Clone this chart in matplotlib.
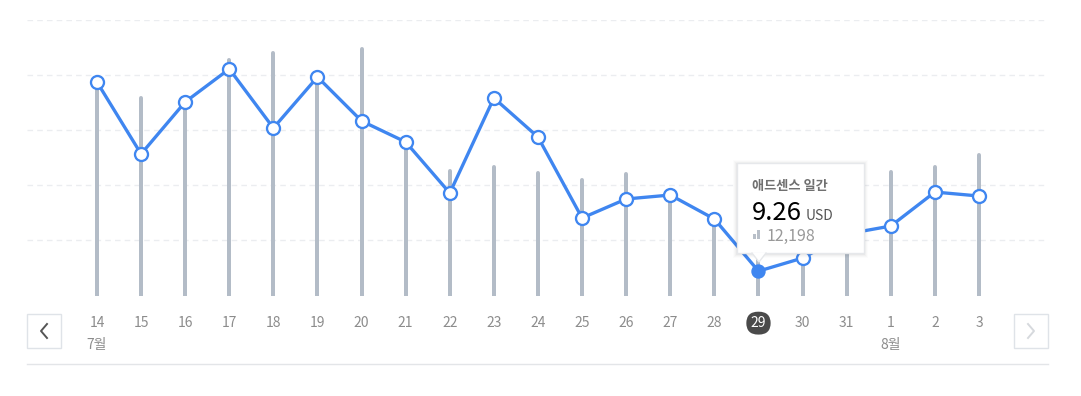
import matplotlib
matplotlib.use("Agg")
import matplotlib.pyplot as plt
from matplotlib.patches import Polygon, Rectangle
from matplotlib.transforms import blended_transform_factory

plt.rcParams["font.family"] = ["Noto Sans CJK KR", "DejaVu Sans"]

# ---------------------------------------------------------
# Data
# ---------------------------------------------------------
days = ["14", "15", "16", "17", "18", "19", "20", "21", "22", "23", "24",
        "25", "26", "27", "28", "29", "30", "31", "1", "2", "3"]
earnings_usd = [26.45, 19.91, 24.64, 27.64, 22.27, 26.91, 22.91, 21.00, 16.36, 25.00, 21.45,
                14.09, 15.82, 16.18, 14.00, 9.26, 10.45, 12.64, 13.36, 16.45, 16.09]
pageviews = [62900, 59400, 57600, 70800, 72900, 64800, 74100, 45300, 37500, 38700, 36900,
             34800, 36600, 29700, 22200, 12198, 10200, 14400, 37200, 38700, 42300]
month_marks = {0: "7월", 18: "8월"}
selected = 15
tooltip_title = "애드센스 일간"

BLUE = "#3f86f0"
BAR = "#b3bcc7"
W, H, DPI = 1081, 396, 100


def fx(x):
    return x / W


def fy(y):
    return 1 - y / H


fig = plt.figure(figsize=(W / DPI, H / DPI), dpi=DPI)
ax = fig.add_axes([fx(27), fy(296), fx(1048 - 27), (296 - 20) / H])
ax2 = ax.twinx()

x = list(range(len(days)))

# bars (pageviews)
ax.vlines(x, 0, pageviews, color=BAR, linewidth=4 * 72 / DPI, capstyle="round", zorder=2)
ax.set_ylim(0, 82800)
ax.set_xlim(-1.587, 21.565)

# gridlines
for gy in [82800, 66300, 49800, 33300, 16800]:
    ax.axhline(gy, color="#ebedf0", linewidth=1, linestyle=(0, (4, 3)), zorder=1)

# line (earnings)
ax2.plot(x, earnings_usd, color=BLUE, linewidth=3.3 * 72 / DPI, zorder=3, solid_joinstyle="round")
ax2.plot([i for i in x if i != selected], [v for i, v in enumerate(earnings_usd) if i != selected],
         linestyle="none", marker="o", markersize=13 * 72 / DPI, markerfacecolor="white",
         markeredgecolor=BLUE, markeredgewidth=2.3 * 72 / DPI, zorder=4)
ax2.plot([selected], [earnings_usd[selected]], linestyle="none", marker="o",
         markersize=13 * 72 / DPI, color=BLUE, zorder=4)
ax2.set_ylim(7, 7 + 276 / 11)

for a in (ax, ax2):
    for s in a.spines.values():
        s.set_visible(False)
    a.set_yticks([])
ax.set_zorder(ax2.get_zorder() - 1)
ax2.patch.set_visible(False)

# x tick labels
ax.set_xticks(x)
ax.set_xticklabels(days, fontsize=10, color="#8c8c8c")
ax.tick_params(axis="x", length=0, pad=14.5)
sel = ax.get_xticklabels()[selected]
sel.set_color("white")
sel.set_bbox(dict(boxstyle="round,pad=0.32,rounding_size=0.85", facecolor="#4a4a4a", edgecolor="none"))

trans = blended_transform_factory(ax.transData, ax.transAxes)
for i, lab in month_marks.items():
    ax.text(i, -0.176, lab, transform=trans, ha="center", va="center", fontsize=10, color="#8c8c8c")

# bottom separator
fig.add_artist(plt.Line2D([fx(27), fx(1048)], [fy(364), fy(364)], color="#e3e5e8", linewidth=1))

# nav buttons
for x0 in [27, 1014]:
    fig.add_artist(Rectangle((fx(x0), fy(348)), 34 / W, 34 / H, transform=fig.transFigure,
                             facecolor="white", edgecolor="#dfe3e8", linewidth=1))
cx, cy = 44, 331
fig.add_artist(plt.Line2D([fx(cx + 3), fx(cx - 3), fx(cx + 3)], [fy(cy - 7), fy(cy), fy(cy + 7)],
                          color="#555555", linewidth=1.4))
cx = 1031
fig.add_artist(plt.Line2D([fx(cx - 3), fx(cx + 3), fx(cx - 3)], [fy(cy - 7), fy(cy), fy(cy + 7)],
                          color="#d6d9dd", linewidth=1.4))

# tooltip
for k, al in [(4, 0.012), (3, 0.018), (2, 0.025), (1, 0.03)]:
    fig.add_artist(Rectangle((fx(737 - k), fy(253 + k + 1)), (127 + 2 * k) / W, (90 + 2 * k) / H,
                             transform=fig.transFigure, facecolor="black", alpha=al,
                             edgecolor="none", zorder=5))
fig.add_artist(Rectangle((fx(737), fy(253)), 127 / W, 90 / H, transform=fig.transFigure,
                         facecolor="white", edgecolor="#e6e8eb", linewidth=1, zorder=6))
fig.add_artist(Polygon([(fx(752), fy(252.5)), (fx(766), fy(252.5)), (fx(759), fy(262))],
                       closed=True, transform=fig.transFigure, facecolor="white",
                       edgecolor="none", zorder=7))
fig.add_artist(plt.Line2D([fx(752), fx(759), fx(766)], [fy(253), fy(262), fy(253)],
                          color="#e6e8eb", linewidth=1, zorder=7))
fig.text(fx(752), fy(186), tooltip_title, fontsize=9.5, color="#707070",
         fontweight="bold", va="center", ha="left", zorder=8)
fig.text(fx(752), fy(213), f"{earnings_usd[selected]:.2f}", fontsize=18.5, color="black",
         va="center", ha="left", zorder=8)
fig.text(fx(806), fy(216), "USD", fontsize=10, color="#555555", va="center", ha="left", zorder=8)
fig.add_artist(Rectangle((fx(753), fy(239)), 2.5 / W, 5 / H, transform=fig.transFigure,
                         facecolor="#b8bfc8", edgecolor="none", zorder=8))
fig.add_artist(Rectangle((fx(757), fy(239)), 2.5 / W, 9 / H, transform=fig.transFigure,
                         facecolor="#b8bfc8", edgecolor="none", zorder=8))
fig.text(fx(767), fy(236), f"{pageviews[selected]:,}", fontsize=11.5, color="#999999",
         va="center", ha="left", zorder=8)

fig.savefig("out.png", dpi=DPI, facecolor="white")
